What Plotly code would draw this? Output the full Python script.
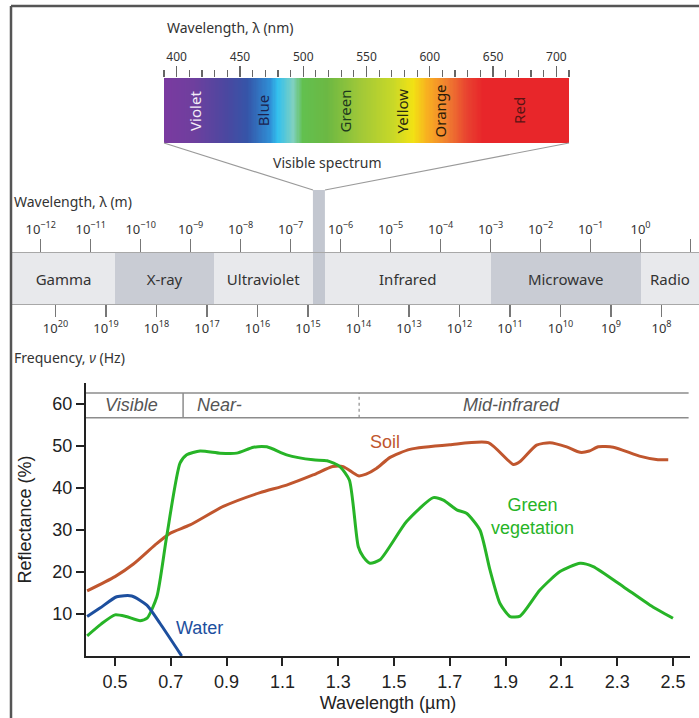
import numpy as np
import plotly.graph_objects as go

W, H = 699, 718

# ---------------- data ----------------
# Reflectance curves (wavelength in µm, reflectance in %)
veg_x = [0.40, 0.45, 0.50, 0.54, 0.59, 0.615, 0.65, 0.685, 0.733, 0.757, 0.805, 0.876, 0.936,
         0.996, 1.044, 1.115, 1.21, 1.26, 1.306, 1.34, 1.372, 1.39, 1.414, 1.45, 1.545, 1.641,
         1.677, 1.725, 1.76, 1.808, 1.844, 1.88, 1.916, 1.952, 2.023, 2.095, 2.167, 2.214,
         2.322, 2.418, 2.50]
veg_y = [4.8, 7.6, 9.8, 9.4, 8.4, 9.0, 14.1, 28.4, 45.9, 47.9, 48.8, 48.3, 48.3,
         49.7, 49.8, 47.9, 46.7, 46.5, 45.1, 41.9, 26.0, 23.6, 22.1, 22.9, 32.0, 37.7,
         37.1, 34.8, 34.0, 30.0, 20.5, 12.5, 9.4, 9.5, 15.7, 20.1, 22.1, 21.3,
         16.5, 12.1, 9.0]

soil_x = [0.40, 0.50, 0.566, 0.643, 0.697, 0.769, 0.888, 1.02, 1.115, 1.21, 1.28, 1.318,
          1.372, 1.40, 1.438, 1.486, 1.557, 1.70, 1.838, 1.928, 1.952, 2.011, 2.059, 2.119,
          2.167, 2.20, 2.232, 2.286, 2.38, 2.44, 2.483]
soil_y = [15.5, 18.9, 21.9, 26.4, 29.2, 31.2, 35.6, 38.9, 40.7, 43.1, 45.1, 45.1,
          42.9, 43.3, 44.7, 47.3, 49.2, 50.3, 50.8, 45.6, 46.3, 50.2, 50.8, 49.8,
          48.5, 48.8, 49.8, 49.7, 47.6, 46.8, 46.7]

water_x = [0.40, 0.446, 0.506, 0.56, 0.614, 0.661, 0.739]
water_y = [9.4, 11.4, 14.1, 14.3, 12.1, 7.8, 0.0]

x_ticks = [0.5, 0.7, 0.9, 1.1, 1.3, 1.5, 1.7, 1.9, 2.1, 2.3, 2.5]
y_ticks = [10, 20, 30, 40, 50, 60]

# spectral regions header (µm)
region_edges = [0.744, 1.375]
region_labels = ["Visible", "Near-", "Mid-infrared"]
region_label_x = [0.56, 0.787, 1.922]

# visible spectrum (nm) colour stops
spec_nm = [390, 413, 440, 456, 474, 480, 492, 500, 519, 545, 571, 587, 598, 614, 629, 642, 710]
spec_col = ["#7a3aa0", "#6f3f9e", "#4a48a0", "#3555a8", "#2f8fd6", "#33c0ee", "#7fd0c0",
            "#62c04f", "#6cb843", "#a0c838", "#c8d828", "#f2e214", "#f8b020", "#f07e30",
            "#e84430", "#e8262a", "#e8262a"]
nm_ticks = [400, 450, 500, 550, 600, 650, 700]
color_names = ["Violet", "Blue", "Green", "Yellow", "Orange", "Red"]
color_name_nm = [414, 468, 533, 578, 608, 670]
color_name_col = ["#f4eef8", "#1c2450", "#1d3a1d", "#2a2a10", "#2a1a08", "#5a1414"]

# electromagnetic spectrum (log10 of wavelength in m)
em_names = ["Gamma", "X-ray", "Ultraviolet", "", "Infrared", "Microwave", "Radio"]
em_start = [-12.574, -10.51, -8.53, -6.554, -6.314, -3.0, 0.006]
em_end = [-10.51, -8.53, -6.554, -6.314, -3.0, 0.006, 1.17]
em_fill = ["#e8e9ec", "#c9ccd4", "#e8e9ec", "#c3c7d0", "#e8e9ec", "#c9ccd4", "#e8e9ec"]
wl_exp = list(range(-12, 2))
freq_exp = list(range(8, 21))

# ---------------- helpers (layout only) ----------------
def fx(px):
    return px / W

def fy(py):
    return 1 - py / H

TXT = "#333333"
TOPFONT = "Noto Sans"
MAINFONT = "Liberation Sans"

fig = go.Figure()

# ---- main reflectance chart ----
fig.add_trace(go.Scatter(x=soil_x, y=soil_y, mode="lines", line=dict(color="#c0562e", width=3, shape="spline", smoothing=0.6),
                         showlegend=False, hoverinfo="skip", cliponaxis=False))
fig.add_trace(go.Scatter(x=veg_x, y=veg_y, mode="lines", line=dict(color="#27b427", width=3, shape="spline", smoothing=0.6),
                         showlegend=False, hoverinfo="skip", cliponaxis=False))
fig.add_trace(go.Scatter(x=water_x, y=water_y, mode="lines", line=dict(color="#1d4f9e", width=3, shape="spline", smoothing=0.6),
                         showlegend=False, hoverinfo="skip", cliponaxis=False))

# ---- visible spectrum gradient ----
wl_grid = np.arange(spec_nm[0], spec_nm[-1] + 1, 1)
cscale = [[(n - spec_nm[0]) / (spec_nm[-1] - spec_nm[0]), c] for n, c in zip(spec_nm, spec_col)]
fig.add_trace(go.Heatmap(x=wl_grid, y=[0.5], z=[wl_grid], zmin=spec_nm[0], zmax=spec_nm[-1],
                         colorscale=cscale, showscale=False, hoverinfo="skip",
                         xaxis="x2", yaxis="y2"))

# ---- EM spectrum bar ----
fig.add_trace(go.Bar(y=[0] * len(em_names), x=[e - s for s, e in zip(em_start, em_end)], base=em_start,
                     orientation="h", width=1, marker=dict(color=em_fill, line=dict(width=0)),
                     text=em_names, textposition="inside", insidetextanchor="middle",
                     constraintext="none", textfont=dict(family=TOPFONT, size=15, color=TXT),
                     showlegend=False, hoverinfo="skip", xaxis="x3", yaxis="y3"))
fig.add_trace(go.Scatter(x=[20], y=[0], mode="markers", marker=dict(opacity=0), showlegend=False,
                         hoverinfo="skip", xaxis="x4", yaxis="y3"))

shapes = []
ann = []

# region header lines
hdr_top, hdr_bot = 62.6, 56.7
for yy in (hdr_top, hdr_bot):
    shapes.append(dict(type="line", xref="x", yref="y", x0=0.396, x1=2.556, y0=yy, y1=yy,
                       line=dict(color="#8c8c8c", width=1.5)))
shapes.append(dict(type="line", xref="x", yref="y", x0=region_edges[0], x1=region_edges[0], y0=hdr_bot, y1=hdr_top,
                   line=dict(color="#8c8c8c", width=1.5)))
shapes.append(dict(type="line", xref="x", yref="y", x0=region_edges[1], x1=region_edges[1], y0=hdr_bot, y1=hdr_top,
                   line=dict(color="#8c8c8c", width=1.2, dash="dot")))
for lab, lx, anc in zip(region_labels, region_label_x, ["center", "left", "center"]):
    ann.append(dict(x=lx, y=(hdr_top + hdr_bot) / 2, xref="x", yref="y", text=f"<i>{lab}</i>", showarrow=False,
                    xanchor=anc, yanchor="middle", font=dict(family=MAINFONT, size=18, color="#555555")))

# curve labels
ann.append(dict(x=1.468, y=51.0, xref="x", yref="y", text="Soil", showarrow=False,
                font=dict(family=MAINFONT, size=18, color="#c0562e")))
ann.append(dict(x=1.998, y=33.1, xref="x", yref="y", text="Green<br>vegetation", showarrow=False,
                font=dict(family=MAINFONT, size=18, color="#27b427")))
ann.append(dict(x=0.803, y=6.7, xref="x", yref="y", text="Water", showarrow=False,
                font=dict(family=MAINFONT, size=18, color="#1d4f9e")))

# axis arrows
ann.append(dict(x=0.396, y=65.5, xref="x", yref="y", ax=0, ay=18, text="", showarrow=True,
                arrowhead=2, arrowsize=1, arrowwidth=1.8, arrowcolor="#222222"))
ann.append(dict(x=2.566, y=0, xref="x", yref="y", ax=-18, ay=0, text="", showarrow=True,
                arrowhead=2, arrowsize=1, arrowwidth=1.8, arrowcolor="#222222"))

# colour names in spectrum
for nm_, c_, col_ in zip(color_name_nm, color_names, color_name_col):
    ann.append(dict(x=nm_, y=0.5, xref="x2", yref="y2", text=c_, textangle=-90, showarrow=False,
                    xanchor="center", yanchor="middle", font=dict(family=TOPFONT, size=15, color=col_)))

# top texts
ann.append(dict(x=fx(165), y=fy(28), xref="paper", yref="paper", text="Wavelength, λ (nm)", showarrow=False,
                xanchor="left", yanchor="middle", font=dict(family=TOPFONT, size=14, color=TXT)))
ann.append(dict(x=fx(327), y=fy(162), xref="paper", yref="paper", text="Visible spectrum", showarrow=False,
                xanchor="center", yanchor="middle", font=dict(family=TOPFONT, size=14, color=TXT)))
ann.append(dict(x=fx(12), y=fy(202), xref="paper", yref="paper", text="Wavelength, λ (m)", showarrow=False,
                xanchor="left", yanchor="middle", font=dict(family=TOPFONT, size=14, color=TXT)))
ann.append(dict(x=fx(12), y=fy(357), xref="paper", yref="paper", text="Frequency, <i>ν</i> (Hz)", showarrow=False,
                xanchor="left", yanchor="middle", font=dict(family=TOPFONT, size=14, color=TXT)))

# visible band extension above EM bar, and funnel lines
shapes.append(dict(type="rect", xref="x3", yref="paper", x0=em_start[3], x1=em_end[3], y0=fy(253), y1=fy(190),
                   fillcolor=em_fill[3], line=dict(width=0), layer="below"))
shapes.append(dict(type="line", xref="paper", yref="paper", x0=fx(164), y0=fy(143), x1=fx(313), y1=fy(190),
                   line=dict(color="#9a9a9a", width=1.2)))
shapes.append(dict(type="line", xref="paper", yref="paper", x0=fx(569), y0=fy(143), x1=fx(325), y1=fy(190),
                   line=dict(color="#9a9a9a", width=1.2)))

# frame
shapes.append(dict(type="line", xref="paper", yref="paper", x0=fx(11), x1=1, y0=fy(6), y1=fy(6),
                   line=dict(color="#555555", width=2.5)))
shapes.append(dict(type="line", xref="paper", yref="paper", x0=fx(11), x1=fx(11), y0=0, y1=fy(6),
                   line=dict(color="#555555", width=2.5)))

sup = lambda e: f"10<sup>{'−' + str(-e) if e < 0 else e}</sup>"

fig.update_layout(
    width=W, height=H, margin=dict(l=0, r=0, t=0, b=0),
    paper_bgcolor="white", plot_bgcolor="rgba(0,0,0,0)",
    showlegend=False,
    xaxis=dict(domain=[fx(86), fx(690)], range=[0.396, 2.561], tickvals=x_ticks,
               ticktext=[f"{v:.1f}" for v in x_ticks], ticks="outside", ticklen=8, tickwidth=2,
               tickcolor="#222222", showline=True, linecolor="#222222", linewidth=2, showgrid=False,
               zeroline=False, tickfont=dict(family=MAINFONT, size=18, color="#222222"),
               title=dict(text="Wavelength (µm)", font=dict(family=MAINFONT, size=18, color="#222222"), standoff=6)),
    yaxis=dict(domain=[fy(656), fy(383)], range=[0, 65], tickvals=y_ticks, ticks="outside", ticklen=8,
               tickwidth=2, tickcolor="#222222", showline=True, linecolor="#222222", linewidth=2,
               showgrid=False, zeroline=False, tickfont=dict(family=MAINFONT, size=18, color="#222222"),
               title=dict(text="Reflectance (%)", font=dict(family=MAINFONT, size=18, color="#222222"), standoff=16)),
    xaxis2=dict(domain=[fx(164), fx(569)], range=[390, 710], anchor="y2", side="top", tickvals=nm_ticks,
                ticks="outside", ticklen=11, tickwidth=1.2, tickcolor="#666666", showgrid=False, zeroline=False,
                showline=False, tickfont=dict(family=TOPFONT, size=12, color=TXT),
                minor=dict(dtick=10, tick0=400, ticks="outside", ticklen=7, tickwidth=1.2, tickcolor="#666666",
                           showgrid=False)),
    yaxis2=dict(domain=[fy(143), fy(78)], range=[0, 1], anchor="x2", visible=False),
    xaxis3=dict(domain=[fx(12), 1.0], range=[em_start[0], em_end[-1]], anchor="y3", side="top",
                tickvals=wl_exp, ticktext=[sup(e) for e in wl_exp], ticks="outside", ticklen=13,
                tickwidth=1.5, tickcolor="#777777", showgrid=False, zeroline=False, showline=True,
                linecolor="#a8a8a8", linewidth=1.2, tickfont=dict(family=TOPFONT, size=13, color=TXT)),
    xaxis4=dict(overlaying="x3", range=[20.861, 7.257], anchor="y3", side="bottom",
                tickvals=freq_exp, ticktext=[sup(e) for e in freq_exp], ticks="outside", ticklen=12,
                tickwidth=1.5, tickcolor="#777777", showgrid=False, zeroline=False, showline=True,
                linecolor="#a8a8a8", linewidth=1.2, tickfont=dict(family=TOPFONT, size=13, color=TXT)),
    yaxis3=dict(domain=[fy(304), fy(253)], range=[-0.5, 0.5], anchor="x3", visible=False),
    shapes=shapes, annotations=ann,
    bargap=0,
)

fig.write_html("out.html", config={"displayModeBar": False, "staticPlot": True},
               post_script="document.body.style.margin='0px';document.body.style.overflow='hidden';")
